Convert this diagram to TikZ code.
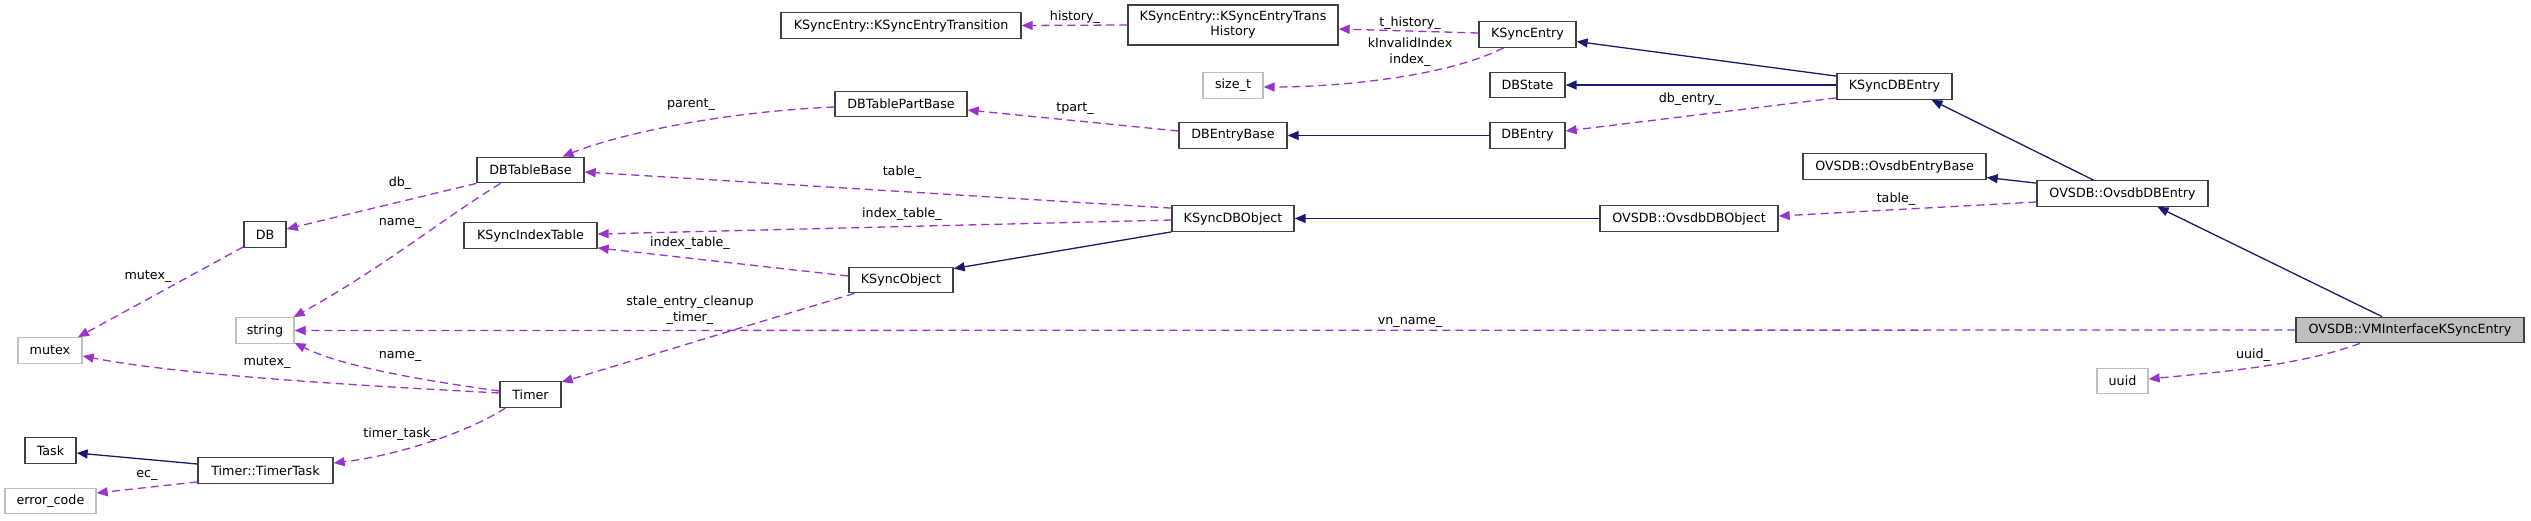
\documentclass[tikz,border=0pt]{standalone}
\usepackage{fontspec}
\setmainfont{DejaVu Sans}
\usetikzlibrary{arrows.meta,calc}
\definecolor{inhcol}{HTML}{191970}
\definecolor{memcol}{HTML}{9A32CD}
\definecolor{boxcol}{HTML}{404040}
\definecolor{extcol}{HTML}{BFBFBF}
\tikzset{
  cls/.style={draw=boxcol, line width=1.3pt, fill=white, inner sep=0pt, minimum height=25.5pt, font=\fontsize{12.7}{15}\selectfont},
  ext/.style={cls, draw=extcol},
  mainbox/.style={cls, fill=extcol},
  inh/.style={draw=inhcol, line width=1.3pt, -{Triangle[length=11pt,width=9pt]}, inhcol},
  mem/.style={draw=memcol, line width=1.3pt, dash pattern=on 8pt off 5pt, -{Triangle[length=11pt,width=9pt,fill=memcol]}},
  lbl/.style={inner sep=0pt, align=center, font=\fontsize{12.7}{15.5}\selectfont}
}
\begin{document}
\begin{tikzpicture}[x=1pt,y=-1pt]
\useasboundingbox (0,0) rectangle (2531,520);
% nodes
\node[cls, minimum width=240pt] (trans) at (901,25.5) {KSyncEntry::KSyncEntryTransition};
\node[cls, minimum width=210pt, minimum height=40pt, align=center, font=\fontsize{12.7}{15}\selectfont] (hist) at (1233,25) {KSyncEntry::KSyncEntryTrans\\History};
\node[cls, minimum width=97pt] (ksentry) at (1527.5,34.5) {KSyncEntry};
\node[ext, minimum width=60pt] (sizet) at (1233,85.5) {size\_t};
\node[cls, minimum width=75pt] (dbstate) at (1527.5,85) {DBState};
\node[cls, minimum width=115pt] (ksdbentry) at (1894.5,86.5) {KSyncDBEntry};
\node[cls, minimum width=132pt] (dbtpb) at (901,104) {DBTablePartBase};
\node[cls, minimum width=108pt] (dbentrybase) at (1233,135.5) {DBEntryBase};
\node[cls, minimum width=75pt] (dbentry) at (1527.5,135.5) {DBEntry};
\node[cls, minimum width=183pt] (ovsentrybase) at (1894.5,166.5) {OVSDB::OvsdbEntryBase};
\node[cls, minimum width=171pt] (ovsdbentry) at (2122.5,193.5) {OVSDB::OvsdbDBEntry};
\node[cls, minimum width=107pt] (dbtablebase) at (530.5,170) {DBTableBase};
\node[cls, minimum width=42pt] (db) at (265,234.5) {DB};
\node[cls, minimum width=133pt] (ksit) at (530.5,235.5) {KSyncIndexTable};
\node[cls, minimum width=122pt] (ksdbobject) at (1233,218.5) {KSyncDBObject};
\node[cls, minimum width=178pt] (ovsdbobject) at (1689,218.5) {OVSDB::OvsdbDBObject};
\node[cls, minimum width=104pt] (ksobject) at (901,280) {KSyncObject};
\node[ext, minimum width=64pt] (mutex) at (50,350.5) {mutex};
\node[ext, minimum width=58pt] (string) at (265,330.5) {string};
\node[cls, minimum width=61pt] (timer) at (530.5,394.5) {Timer};
\node[mainbox, minimum width=228pt] (main) at (2410,330) {OVSDB::VMInterfaceKSyncEntry};
\node[ext, minimum width=51pt] (uuid) at (2122.5,381) {uuid};
\node[cls, minimum width=51pt] (task) at (50.5,450.5) {Task};
\node[cls, minimum width=135pt] (timertask) at (265.5,470.5) {Timer::TimerTask};
\node[ext, minimum width=91pt] (errcode) at (50.5,501) {error\_code};
% inheritance edges
\draw[inh] (dbentry.west) -- (dbentrybase.east);
\draw[inh] ($(ksdbentry.west)+(0,-1.5)$) -- (dbstate.east);
\draw[inh] ($(ksdbentry.north west)+(0,3)$) -- ($(ksentry.east)+(0,7)$);
\draw[inh] (ksdbobject.south west) -- ($(ksobject.north east)+(0,2)$);
\draw[inh] (ovsdbobject.west) -- (ksdbobject.east);
\draw[inh] ($(ovsdbentry.north)+(-29,0)$) -- ($(ksdbentry.south)+(37,0)$);
\draw[inh] ($(ovsdbentry.north west)+(0,3)$) -- ($(ovsentrybase.east)+(0,11)$);
\draw[inh] ($(main.north)+(-28,0)$) -- ($(ovsdbentry.south)+(35,0)$);
\draw[inh] ($(timertask.west)+(0,-6.5)$) -- ($(task.east)+(0,2.5)$);
% member edges
\draw[mem] (hist.west) -- (trans.east);
\draw[mem] ($(ksentry.west)+(0,-1.5)$) -- ($(hist.east)+(0,4)$);
\draw[mem] ($(ksentry.south)+(-24,0)$) .. controls +(-60,30) and +(70,0) .. ($(sizet.east)+(0,1.5)$);
\draw[mem] ($(ksdbentry.south west)+(0,-2)$) -- ($(dbentry.east)+(0,-4.5)$);
\draw[mem] ($(dbentrybase.west)+(0,-4.5)$) -- ($(dbtpb.east)+(0,6)$);
\draw[mem] ($(dbtpb.west)+(0,3)$) .. controls +(-115,5) and +(55,-22) .. ($(dbtablebase.north)+(32,0)$);
\draw[mem] ($(ksdbobject.north west)+(0,3)$) -- ($(dbtablebase.east)+(0,2)$);
\draw[mem] ($(ksdbobject.west)+(0,1.5)$) -- ($(ksit.east)+(0,-1.5)$);
\draw[mem] ($(ksobject.west)+(0,-4)$) -- ($(ksit.south east)+(0,-1)$);
\draw[mem] ($(ovsdbentry.west)+(0,8.5)$) -- ($(ovsdbobject.east)+(0,-2.5)$);
\draw[mem] (main.west) -- (string.east);
\draw[mem] ($(main.south)+(-50,0)$) .. controls +(-60,22) and +(72,-7) .. ($(uuid.east)+(0,-2)$);
\draw[mem] (dbtablebase.south west) -- ($(db.east)+(0,-5.5)$);
\draw[mem] ($(dbtablebase.south)+(-30,0)$) .. controls +(-60,37) and +(90,-50) .. ($(string.north east)+(-1,0)$);
\draw[mem] ($(db.south west)+(0,-1)$) -- ($(mutex.north)+(28,0)$);
\draw[mem] ($(ksobject.south west)+(6,0)$) -- ($(timer.north east)+(0,1)$);
\draw[mem] ($(timer.west)+(0,-3.5)$) .. controls +(-80,-11) and +(46,23) .. ($(string.south east)+(0,-1)$);
\draw[mem] ($(timer.west)+(0,-1.5)$) .. controls +(-150,-8) and +(98,19) .. ($(mutex.east)+(0,5.5)$);
\draw[mem] ($(timer.south)+(-25,0)$) .. controls +(-35,23) and +(67,-8) .. ($(timertask.east)+(0,-7.5)$);
\draw[mem] ($(timertask.south west)+(0,-2)$) -- ($(errcode.east)+(0,-8)$);
% labels
\node[lbl] (l1) at (1075,17) {history\_};
\node[lbl] (l2) at (1410,23) {t\_history\_};
\node[lbl] (l3) at (1410,52) {kInvalidIndex\\index\_};
\node[lbl] (l4) at (1690,99) {db\_entry\_};
\node[lbl] (l5) at (1075,109) {tpart\_};
\node[lbl] (l6) at (691,105) {parent\_};
\node[lbl] (l7) at (902,172) {table\_};
\node[lbl] (l8) at (902,214) {index\_table\_};
\node[lbl] (l9) at (690,243) {index\_table\_};
\node[lbl] (l10) at (690,310) {stale\_entry\_cleanup\\\_timer\_};
\node[lbl] (l11) at (1896,199) {table\_};
\node[lbl] (l12) at (1410,322) {vn\_name\_};
\node[lbl] (l13) at (2253,355) {uuid\_};
\node[lbl] (l14) at (400,183) {db\_};
\node[lbl] (l15) at (400,223) {name\_};
\node[lbl] (l16) at (148,277) {mutex\_};
\node[lbl] (l17) at (267,363) {mutex\_};
\node[lbl] (l18) at (400,356) {name\_};
\node[lbl] (l19) at (400,434) {timer\_task\_};
\node[lbl] (l20) at (147,475) {ec\_};
\end{tikzpicture}
\end{document}
